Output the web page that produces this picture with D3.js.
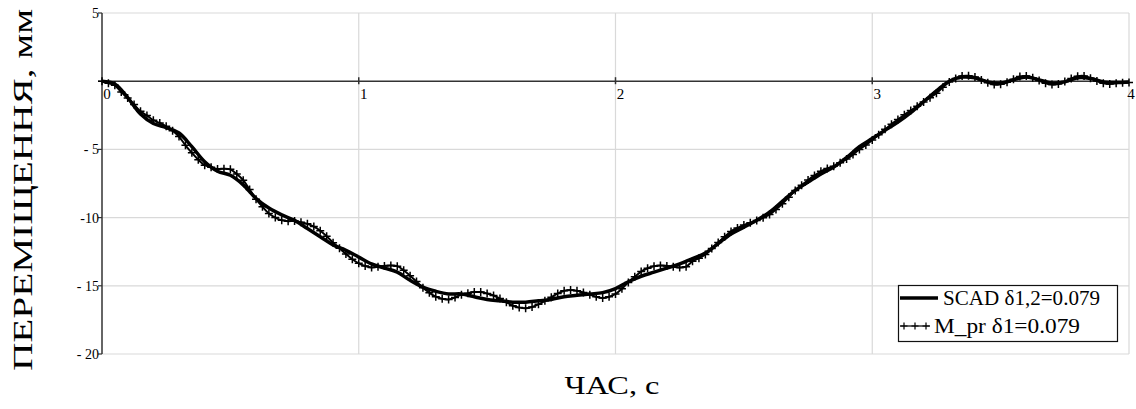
<!DOCTYPE html>
<html>
<head>
<meta charset="utf-8">
<script src="https://cdn.jsdelivr.net/npm/d3@7"></script>
<style>
  body { margin: 0; background: #fff; }
  svg text { font-family: "Liberation Serif", "Times New Roman", serif; fill: #000; }
</style>
</head>
<body>
<script>
// series
var scadStep = 0.05;
var scadY = [0, -0.2, -1.2, -2.4, -3.1, -3.4, -3.8, -4.8, -5.9, -6.6,
  -6.9, -7.6, -8.6, -9.3, -9.8, -10.2, -10.8, -11.4, -12.0, -12.4,
  -12.9, -13.4, -13.7, -14.0, -14.6, -15.1, -15.4, -15.6, -15.6, -15.8,
  -16.0, -16.1, -16.2, -16.2, -16.1, -16.0, -15.8, -15.7, -15.6, -15.5,
  -15.2, -14.7, -14.3, -14.0, -13.7, -13.4, -13.0, -12.6, -11.9, -11.2,
  -10.7, -10.2, -9.6, -8.8, -8.0, -7.4, -6.8, -6.3, -5.6, -4.8,
  -4.2, -3.6, -3.0, -2.3, -1.5, -0.7, 0.0, 0.3, 0.25, -0.05,
  -0.15, 0.1, 0.3, 0.1, -0.15, -0.05, 0.25, 0.2, -0.05, -0.1, -0.05];

var mprStep = 0.025;
var mprY = [0, -0.15, -0.3, -0.8, -1.23, -1.71, -2.21, -2.51, -2.86, -3.06,
  -3.31, -3.63, -4.06, -4.70, -5.25, -5.75, -6.16, -6.30, -6.44, -6.41,
  -6.46, -6.81, -7.26, -7.94, -8.65, -9.21, -9.70, -10.00, -10.20, -10.26,
  -10.25, -10.34, -10.46, -10.66, -10.96, -11.36, -11.84, -12.25, -12.66, -13.05,
  -13.35, -13.55, -13.66, -13.60, -13.54, -13.51, -13.56, -13.86, -14.26, -14.69,
  -15.15, -15.51, -15.80, -15.95, -16.00, -15.86, -15.65, -15.54, -15.46, -15.46,
  -15.56, -15.71, -15.94, -16.20, -16.46, -16.60, -16.65, -16.55, -16.36, -16.10,
  -15.84, -15.56, -15.36, -15.31, -15.36, -15.49, -15.65, -15.81, -15.90, -15.80,
  -15.60, -15.21, -14.75, -14.34, -13.96, -13.71, -13.56, -13.51, -13.54, -13.60,
  -13.66, -13.60, -13.20, -12.98, -12.71, -12.27, -11.83, -11.40, -11.01, -10.76,
  -10.55, -10.38, -10.22, -10.01, -9.78, -9.40, -8.98, -8.51, -8.02, -7.63,
  -7.25, -6.91, -6.61, -6.40, -6.23, -5.97, -5.71, -5.38, -5.00, -4.68,
  -4.31, -3.92, -3.53, -3.15, -2.81, -2.46, -2.15, -1.83, -1.52, -1.21,
  -0.88, -0.45, -0.05, 0.20, 0.38, 0.40, 0.30, 0.08, -0.12, -0.25,
  -0.22, -0.08, 0.15, 0.35, 0.38, 0.25, 0.05, -0.15, -0.25, -0.20,
  -0.02, 0.20, 0.36, 0.38, 0.22, 0.02, -0.15, -0.20, -0.15, -0.12, -0.10];

var xTicks = [0, 1, 2, 3, 4];
var yTicks = [5, 0, -5, -10, -15, -20];
var yTickLabels = ["5", "", "- 5", "-10", "- 15", "- 20"];
var legendLabels = ["SCAD \u03b41,2=0.079", "M_pr \u03b41=0.079"];

var width = 1136,
    height = 409;

var x = d3.scaleLinear().domain([0, 4]).range([102, 1129]);
var y = d3.scaleLinear().domain([-20, 5]).range([354, 13]);

var svg = d3.select("body").append("svg")
    .attr("width", width)
    .attr("height", height);

var crossPath = "M-4,0H4M0,-4V4";

// grid
svg.append("g").selectAll("line")
   .data(yTicks.filter(function(d){ return d !== 0; }))
   .enter().append("line")
   .attr("x1", x(0)).attr("x2", x(4))
   .attr("y1", function(d){ return y(d); })
   .attr("y2", function(d){ return y(d); })
   .attr("stroke", "#d9d9d9").attr("stroke-width", 1.2);

svg.append("g").selectAll("line")
   .data(xTicks.slice(1))
   .enter().append("line")
   .attr("x1", function(d){ return x(d); })
   .attr("x2", function(d){ return x(d); })
   .attr("y1", y(5)).attr("y2", y(-20))
   .attr("stroke", "#d9d9d9").attr("stroke-width", 1.2);

// left axis
svg.append("line")
   .attr("x1", x(0)).attr("x2", x(0))
   .attr("y1", y(5)).attr("y2", y(-20))
   .attr("stroke", "#333").attr("stroke-width", 1.5);

svg.append("g").selectAll("line")
   .data(yTicks)
   .enter().append("line")
   .attr("x1", x(0) - 4).attr("x2", x(0))
   .attr("y1", function(d){ return y(d); })
   .attr("y2", function(d){ return y(d); })
   .attr("stroke", "#333").attr("stroke-width", 1.2);

svg.append("g").selectAll("text")
   .data(yTicks)
   .enter().append("text")
   .attr("x", x(0) - 3)
   .attr("y", function(d){ return y(d) + 5; })
   .attr("text-anchor", "end")
   .style("font-size", "14px")
   .text(function(d, i){ return yTickLabels[i]; });

// zero line (x axis)
svg.append("line")
   .attr("x1", x(0)).attr("x2", x(4))
   .attr("y1", y(0)).attr("y2", y(0))
   .attr("stroke", "#333").attr("stroke-width", 1.5);

svg.append("g").selectAll("line")
   .data(xTicks.slice(1, 4))
   .enter().append("line")
   .attr("x1", function(d){ return x(d); })
   .attr("x2", function(d){ return x(d); })
   .attr("y1", y(0) - 4).attr("y2", y(0) + 3)
   .attr("stroke", "#333").attr("stroke-width", 1.5);

svg.append("g").selectAll("text")
   .data(xTicks)
   .enter().append("text")
   .attr("x", function(d){ return d === 4 ? x(d) + 2 : x(d) + 5; })
   .attr("y", y(0) + 18)
   .attr("text-anchor", "middle")
   .style("font-size", "15px")
   .text(function(d){ return d; });

// curves
var scadLine = d3.line()
    .x(function(d, i){ return x(i * scadStep); })
    .y(function(d){ return y(d); })
    .curve(d3.curveCatmullRom);

var mprLine = d3.line()
    .x(function(d, i){ return x(i * mprStep); })
    .y(function(d){ return y(d); })
    .curve(d3.curveCatmullRom);

svg.append("path")
   .datum(mprY)
   .attr("d", mprLine)
   .attr("fill", "none")
   .attr("stroke", "#000")
   .attr("stroke-width", 2);

svg.append("g").selectAll("path")
   .data(mprY)
   .enter().append("path")
   .attr("transform", function(d, i){ return "translate(" + x(i * mprStep) + "," + y(d) + ")"; })
   .attr("d", crossPath)
   .attr("stroke", "#000")
   .attr("stroke-width", 1.5);

svg.append("path")
   .datum(scadY)
   .attr("d", scadLine)
   .attr("fill", "none")
   .attr("stroke", "#000")
   .attr("stroke-width", 3.5);

// legend
var lg = svg.append("g");
lg.append("rect")
  .attr("x", 898.5).attr("y", 285.5)
  .attr("width", 219).attr("height", 56)
  .attr("fill", "#fff").attr("stroke", "#111").attr("stroke-width", 1.2);

lg.append("line")
  .attr("x1", 900).attr("x2", 938)
  .attr("y1", 298).attr("y2", 298)
  .attr("stroke", "#000").attr("stroke-width", 3.5);

lg.append("line")
  .attr("x1", 900).attr("x2", 930)
  .attr("y1", 326).attr("y2", 326)
  .attr("stroke", "#000").attr("stroke-width", 1.2);

lg.selectAll(".lp")
  .data([904, 915, 926])
  .enter().append("path")
  .attr("class", "lp")
  .attr("transform", function(d){ return "translate(" + d + ",326)"; })
  .attr("d", "M-3.5,0H3.5M0,-3.5V3.5")
  .attr("stroke", "#000").attr("stroke-width", 1.2);

lg.selectAll("text")
  .data(legendLabels)
  .enter().append("text")
  .attr("x", function(d, i){ return i === 0 ? 943 : 934; })
  .attr("y", function(d, i){ return 305 + i * 28; })
  .attr("textLength", function(d, i){ return i === 0 ? 157 : 146; })
  .attr("lengthAdjust", "spacingAndGlyphs")
  .style("font-size", "20px")
  .text(function(d){ return d; });

// axis titles
svg.append("text")
   .attr("transform", "translate(32,190) rotate(-90)")
   .attr("text-anchor", "middle")
   .attr("textLength", 362)
   .attr("lengthAdjust", "spacingAndGlyphs")
   .style("font-size", "28px")
   .text("ПЕРЕМІЩЕННЯ, мм");

svg.append("text")
   .attr("x", 612).attr("y", 394)
   .attr("text-anchor", "middle")
   .attr("textLength", 95)
   .attr("lengthAdjust", "spacingAndGlyphs")
   .style("font-size", "26px")
   .text("ЧАС, с");
</script>
</body>
</html>
